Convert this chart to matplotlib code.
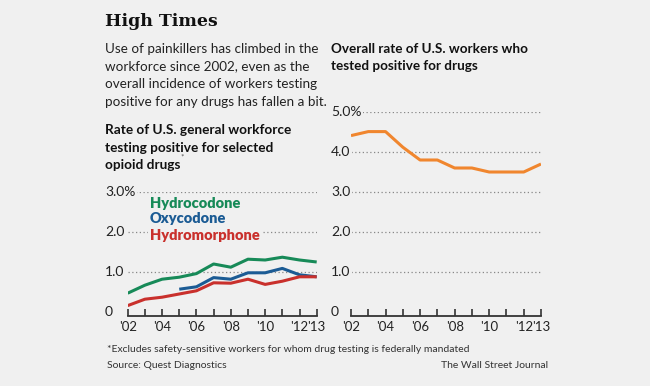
import matplotlib
matplotlib.use("Agg")
import matplotlib.pyplot as plt

years = list(range(2002, 2014))
hydrocodone = [0.47, 0.67, 0.82, 0.87, 0.96, 1.20, 1.12, 1.32, 1.30, 1.37, 1.30, 1.25]
oxy_years = list(range(2005, 2014))
oxycodone = [0.57, 0.63, 0.86, 0.82, 0.98, 0.98, 1.09, 0.93, 0.88]
hydromorphone = [0.16, 0.32, 0.37, 0.45, 0.53, 0.73, 0.72, 0.82, 0.69, 0.77, 0.88, 0.88]
overall = [4.41, 4.51, 4.51, 4.12, 3.80, 3.80, 3.60, 3.60, 3.50, 3.50, 3.50, 3.70]

tick_years = [2002, 2004, 2006, 2008, 2010, 2012, 2013]
tick_labels = ["'02", "'04", "'06", "'08", "'10", "'12", "'13"]

BG = "#f0f0f0"
W, H = 650, 386
SANS = "Lato"

fig = plt.figure(figsize=(6.5, 3.86), dpi=100, facecolor=BG)


def px_axes(x0, x1, y_top, y_bot):
    # axes box from pixel coords (origin top-left)
    return fig.add_axes([x0 / W, (H - y_bot) / H, (x1 - x0) / W, (y_bot - y_top) / H])


def style(ax, yticks, ylabels, label_x):
    ax.set_facecolor("none")
    ax.set_xlim(2002, 2013)
    ax.set_ylim(0, yticks[-1])
    for s in ["top", "right", "left"]:
        ax.spines[s].set_visible(False)
    ax.spines["bottom"].set_color("#333333")
    ax.spines["bottom"].set_linewidth(1.3)
    ax.spines["bottom"].set_position(("outward", 3))
    ax.set_xticks(years)
    ax.set_xticklabels(["" for _ in years])
    ax.tick_params(axis="x", direction="in", length=5, width=1.2, color="#333333", pad=0)
    ax.set_yticks([])
    for yr, lab in zip(tick_years, tick_labels):
        ax.text(yr, -0.38, lab, ha="center", va="center", fontsize=9.5,
                family=SANS, color="#222222", transform=ax.transData, clip_on=False)
    for v, lab in zip(yticks, ylabels):
        if v > 0:
            ax.hlines(v, 2002, 2013, colors="#888888", linestyles=(0, (1, 2)), linewidth=0.9)
        ax.text(label_x, v, lab, ha="left", va="center", fontsize=10, family=SANS,
                color="#222222", transform=ax.get_yaxis_transform(), clip_on=False,
                bbox=dict(facecolor=BG, edgecolor="none", pad=1))


# left chart
ax1 = px_axes(127.7, 316.7, 192, 312)
style(ax1, [0, 1, 2, 3], ["0", "1.0", "2.0", "3.0%"], -0.12)
ax1.plot(years, hydrocodone, color="#178a58", lw=2.2, solid_capstyle="butt", zorder=3)
ax1.plot(oxy_years, oxycodone, color="#1b5b94", lw=2.2, solid_capstyle="butt", zorder=3)
ax1.plot(years, hydromorphone, color="#c9302c", lw=2.2, solid_capstyle="butt", zorder=3)
for name, col, y in [("Hydrocodone", "#178a58", 2.72), ("Oxycodone", "#1b5b94", 2.34),
                     ("Hydromorphone", "#c9302c", 1.9)]:
    ax1.text(2003.3, y, name, color=col, fontsize=10.5, fontweight="heavy", family=SANS,
             ha="left", va="center", bbox=dict(facecolor=BG, edgecolor="none", pad=1.5))

# right chart
ax2 = px_axes(351, 541, 112, 312)
style(ax2, [0, 1, 2, 3, 4, 5], ["0", "1.0", "2.0", "3.0", "4.0", "5.0%"], -0.105)
ax2.plot(years, overall, color="#f0862e", lw=2.2, solid_capstyle="butt", zorder=3)

# texts
def ftext(x, y, s, **kw):
    fig.text(x / W, 1 - y / H, s, va="center", ha=kw.pop("ha", "left"), **kw)

ftext(105, 22, "High Times", fontsize=12.5, fontweight="bold", family="DejaVu Serif", color="#111111")
sub = ["Use of painkillers has climbed in the",
       "workforce since 2002, even as the",
       "overall incidence of workers testing",
       "positive for any drugs has fallen a bit."]
for i, line in enumerate(sub):
    ftext(105, 49 + i * 17.5, line, fontsize=9.7, family=SANS, color="#222222")
head = ["Rate of U.S. general workforce", "testing positive for selected", "opioid drugs"]
for i, line in enumerate(head):
    ftext(105, 130 + i * 17.5, line, fontsize=9.8, fontweight="bold", family=SANS, color="#111111")
ftext(180, 157, "*", fontsize=6, family=SANS, color="#555555")
ftext(331, 49, "Overall rate of U.S. workers who", fontsize=9.7, fontweight="bold", family=SANS, color="#111111")
ftext(331, 66.5, "tested positive for drugs", fontsize=9.7, fontweight="bold", family=SANS, color="#111111")

ftext(107, 350, "*Excludes safety-sensitive workers for whom drug testing is federally mandated",
      fontsize=7.5, family=SANS, color="#333333")
ftext(107, 366, "Source: Quest Diagnostics", fontsize=7.5, family=SANS, color="#333333")
ftext(548, 366, "The Wall Street Journal", fontsize=7.5, family=SANS, color="#333333", ha="right")

fig.savefig("out.png", dpi=100, facecolor=BG)
